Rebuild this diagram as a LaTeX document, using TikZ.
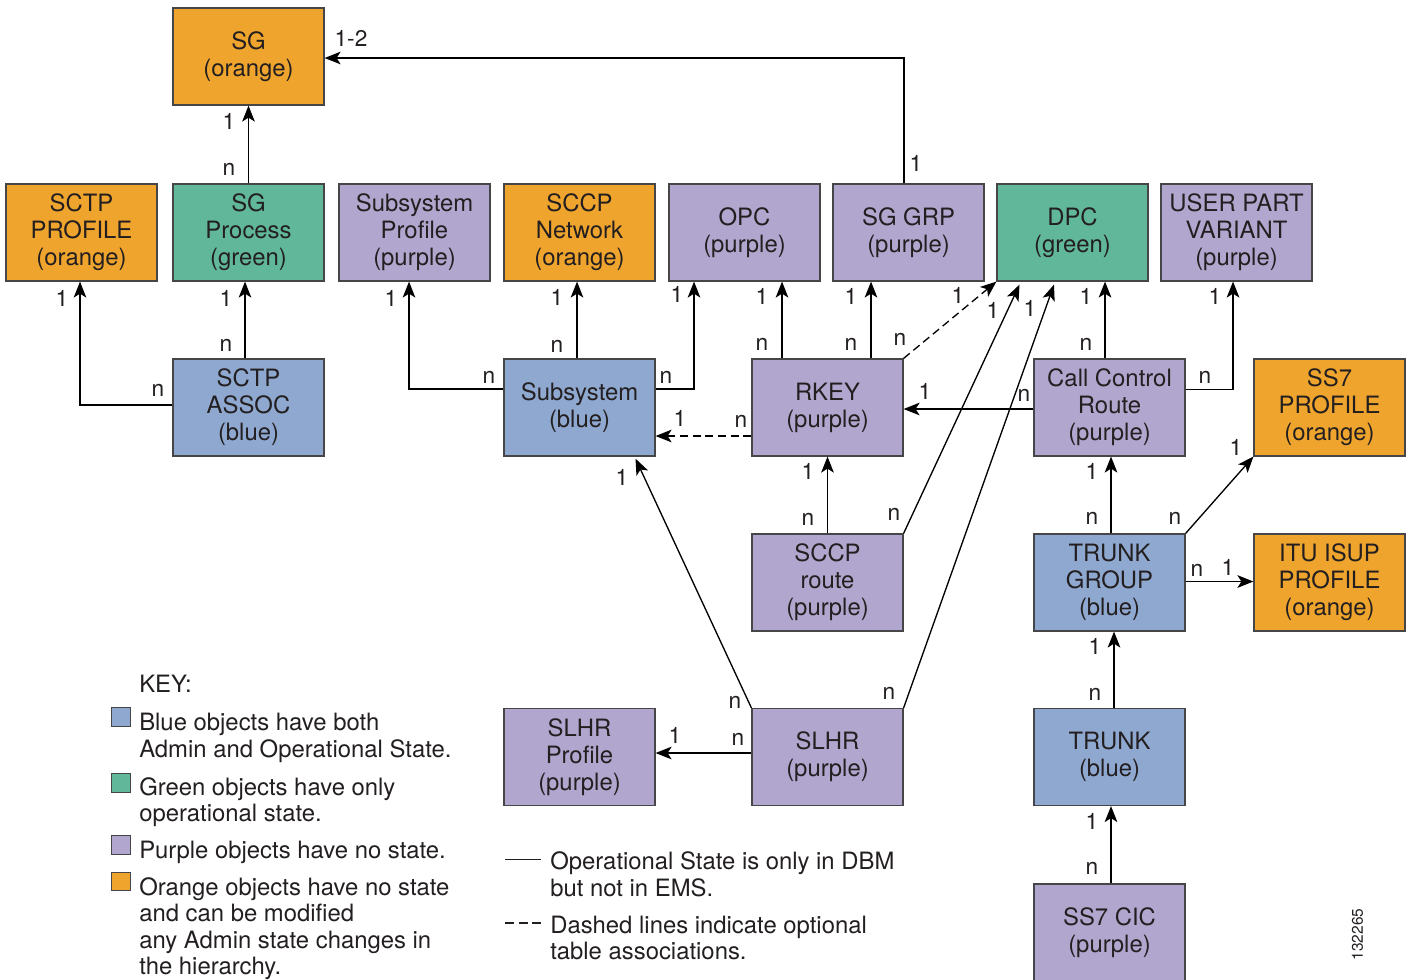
\documentclass[tikz,border=0pt]{standalone}
\usepackage{fontspec}
\setmainfont{TeX Gyre Heros}
\usetikzlibrary{arrows.meta,calc}

\definecolor{cor}{RGB}{239,165,45}
\definecolor{cgr}{RGB}{96,183,153}
\definecolor{cpu}{RGB}{177,166,206}
\definecolor{cbl}{RGB}{143,168,208}
\definecolor{edgec}{RGB}{70,70,72}
\definecolor{inkc}{RGB}{35,31,32}

\begin{document}
\begin{tikzpicture}[x=0.75pt,y=-0.75pt,
  every node/.style={text=inkc},
  obj/.style={draw=edgec, line width=0.9pt, minimum width=113.25pt,
    minimum height=72.75pt, inner sep=0pt, align=center,
    font=\fontsize{17.9}{20.25}\selectfont},
  lab/.style={inner sep=0pt, font=\fontsize{17}{20}\selectfont},
  txt/.style={inner sep=0pt, anchor=base west, font=\fontsize{17.9}{20.25}\selectfont},
  keysq/.style={draw=edgec, line width=0.8pt, minimum size=14pt, inner sep=0pt},
  arr/.style={draw=black, line width=1pt,
    -{Stealth[length=12pt,width=9.5pt,inset=3pt]}},
  opt/.style={arr, dash pattern=on 6pt off 3.5pt},
  sample/.style={draw=inkc, line width=1pt}]

\useasboundingbox (0,0) rectangle (1412,979);

% ---- object boxes ----
\node[obj, fill=cor] (sg)       at (248.5,56.5)  {SG\\(orange)};
\node[obj, fill=cor] (sctpprof) at (81.5,232.5)  {SCTP\\PROFILE\\(orange)};
\node[obj, fill=cgr] (sgproc)   at (248.5,232.5) {SG\\Process\\(green)};
\node[obj, fill=cpu] (ssprof)   at (414.5,232.5) {Subsystem\\Profile\\(purple)};
\node[obj, fill=cor] (sccpnet)  at (579.5,232.5) {SCCP\\Network\\(orange)};
\node[obj, fill=cpu] (opc)      at (744.5,232.5) {OPC\\(purple)};
\node[obj, fill=cpu] (sggrp)    at (908.5,232.5) {SG GRP\\(purple)};
\node[obj, fill=cgr] (dpc)      at (1072.5,232.5) {DPC\\(green)};
\node[obj, fill=cpu] (upv)      at (1236.5,232.5) {USER PART\\VARIANT\\(purple)};
\node[obj, fill=cbl] (sctpassoc) at (248.5,407.5) {SCTP\\ASSOC\\(blue)};
\node[obj, fill=cbl] (subsys)   at (579.5,407.5) {Subsystem\\(blue)};
\node[obj, fill=cpu] (rkey)     at (827.5,407.5) {RKEY\\(purple)};
\node[obj, fill=cpu] (ccr)      at (1109.5,407.5) {Call Control\\Route\\(purple)};
\node[obj, fill=cor] (ss7prof)  at (1329.5,407.5) {SS7\\PROFILE\\(orange)};
\node[obj, fill=cpu] (sccproute) at (827.5,582.5) {SCCP\\route\\(purple)};
\node[obj, fill=cbl] (tg)       at (1109.5,582.5) {TRUNK\\GROUP\\(blue)};
\node[obj, fill=cor] (itu)      at (1329.5,582.5) {ITU ISUP\\PROFILE\\(orange)};
\node[obj, fill=cpu] (slhrprof) at (579.5,757)   {SLHR\\Profile\\(purple)};
\node[obj, fill=cpu] (slhr)     at (827.5,757)   {SLHR\\(purple)};
\node[obj, fill=cbl] (trunk)    at (1109.5,757)  {TRUNK\\(blue)};
\node[obj, fill=cpu] (cic)      at (1109.5,932.5) {SS7 CIC\\(purple)};

% ---- associations ----
\draw[arr] (sgproc.north) -- (sg.south);
\draw[arr] ($(sggrp.north)+(-4.5,0)$) |- ($(sg.east)+(0,1.5)$);
\draw[arr] ($(sctpassoc.west)+(0,-2.5)$) -| ($(sctpprof.south)+(-1.5,0)$);
\draw[arr] ($(sctpassoc.north)+(-3.5,0)$) -- ($(sgproc.south)+(-3.5,0)$);
\draw[arr] ($(subsys.west)+(0,-18.5)$) -| ($(ssprof.south)+(-5.5,0)$);
\draw[arr] ($(subsys.north)+(-2.5,0)$) -- ($(sccpnet.south)+(-2.5,0)$);
\draw[arr] ($(subsys.east)+(0,-18.5)$) -| ($(opc.south)+(-50.5,0)$);
\draw[opt] ($(rkey.west)+(0,28.5)$) -- ($(subsys.east)+(0,28.5)$);
\draw[arr] ($(rkey.north)+(-45.5,0)$) -- ($(opc.south)+(37.5,0)$);
\draw[arr] ($(rkey.north)+(43.5,0)$) -- ($(sggrp.south)+(-37.5,0)$);
\draw[opt] (rkey.north east) -- (dpc.south west);
\draw[arr] (sccproute.north east) -- ($(dpc.south)+(-53,3)$);
\draw[arr] (slhr.north east) -- ($(dpc.south)+(-18.5,3)$);
\draw[arr] ($(ccr.west)+(0,1.5)$) -- ($(rkey.east)+(0,1.5)$);
\draw[arr] ($(ccr.north)+(-4.5,0)$) -- ($(dpc.south)+(32.5,0)$);
\draw[arr] ($(ccr.east)+(0,-18)$) -| ($(upv.south)+(-3.5,0)$);
\draw[arr] (sccproute.north) -- (rkey.south);
\draw[arr] (slhr.north west) -- ($(subsys.south)+(56,2)$);
\draw[arr] ($(slhr.west)+(0,-4)$) -- ($(slhrprof.east)+(0,-4)$);
\draw[arr] ($(tg.north)+(1.5,0)$) -- ($(ccr.south)+(1.5,0)$);
\draw[arr] (tg.north east) -- (ss7prof.south west);
\draw[arr] ($(tg.east)+(0,-1)$) -- ($(itu.west)+(0,-1)$);
\draw[arr] ($(trunk.north)+(4.5,0)$) -- ($(tg.south)+(4.5,0)$);
\draw[arr] ($(cic.north)+(1.5,0)$) -- ($(trunk.south)+(1.5,0)$);

% ---- multiplicities ----
\node[lab] (m1a) at (229,169) {n};   \node[lab] (m1b) at (229,121) {1};
\node[lab] (m2a) at (916,163) {1};   \node[lab] (m2b) at (351,38) {1-2};
\node[lab] (m3a) at (158,390) {n};   \node[lab] (m3b) at (62,298) {1};
\node[lab] (m4a) at (226,345) {n};   \node[lab] (m4b) at (226,298) {1};
\node[lab] (m5a) at (489,377) {n};   \node[lab] (m5b) at (391,298) {1};
\node[lab] (m6a) at (557,346) {n};   \node[lab] (m6b) at (557,297) {1};
\node[lab] (m7a) at (666,377) {n};   \node[lab] (m7b) at (677,294) {1};
\node[lab] (m8a) at (741,421) {n};   \node[lab] (m8b) at (680,418) {1};
\node[lab] (m9a) at (762,344) {n};   \node[lab] (m9b) at (762,296) {1};
\node[lab] (m10a) at (851,344) {n};  \node[lab] (m10b) at (851,296) {1};
\node[lab] (m11a) at (900,339) {n};  \node[lab] (m11b) at (958,295) {1};
\node[lab] (m12a) at (894,514) {n};  \node[lab] (m12b) at (993,310) {1};
\node[lab] (m13a) at (889,693) {n};  \node[lab] (m13b) at (1030,308) {1};
\node[lab] (m14a) at (1024,395) {n}; \node[lab] (m14b) at (925,391) {1};
\node[lab] (m15a) at (1086,344) {n}; \node[lab] (m15b) at (1086,296) {1};
\node[lab] (m16a) at (1205,377) {n}; \node[lab] (m16b) at (1215,296) {1};
\node[lab] (m17a) at (808,519) {n};  \node[lab] (m17b) at (808,471) {1};
\node[lab] (m18a) at (735,702) {n};  \node[lab] (m18b) at (622,477) {1};
\node[lab] (m19a) at (738,739) {n};  \node[lab] (m19b) at (675,735) {1};
\node[lab] (m20a) at (1092,518) {n}; \node[lab] (m20b) at (1092,471) {1};
\node[lab] (m21a) at (1175,518) {n}; \node[lab] (m21b) at (1236,447) {1};
\node[lab] (m22a) at (1197,570) {n}; \node[lab] (m22b) at (1228,567) {1};
\node[lab] (m23a) at (1095,694) {n}; \node[lab] (m23b) at (1095,646) {1};
\node[lab] (m24a) at (1092,868) {n}; \node[lab] (m24b) at (1092,821) {1};

% ---- colour key ----
\node[txt] (keyt) at (139,692) {KEY:};
\node[keysq, fill=cbl] (kblue)   at (121,717) {};
\node[keysq, fill=cgr] (kgreen)  at (121,783) {};
\node[keysq, fill=cpu] (kpurple) at (121,845) {};
\node[keysq, fill=cor] (korange) at (121,881.5) {};
\node[txt] (k1a) at (139,730) {Blue objects have both};
\node[txt] (k1b) at (139,757) {Admin and Operational State.};
\node[txt] (k2a) at (139,795) {Green objects have only};
\node[txt] (k2b) at (139,821) {operational state.};
\node[txt] (k3a) at (139,858) {Purple objects have no state.};
\node[txt] (k4a) at (139,895) {Orange objects have no state};
\node[txt] (k4b) at (139,921) {and can be modified};
\node[txt] (k4c) at (139,948) {any Admin state changes in};
\node[txt] (k4d) at (139,974) {the hierarchy.};

% ---- line key ----
\coordinate (ls1) at (505,859.5); \coordinate (le1) at (541,859.5);
\coordinate (ls2) at (505,923);   \coordinate (le2) at (541,923);
\draw[sample] (ls1) -- (le1);
\draw[sample, dash pattern=on 6.75pt off 3.4pt] (ls2) -- (le2);
\node[txt] (l1a) at (550,869) {Operational State is only in DBM};
\node[txt] (l1b) at (550,896) {but not in EMS.};
\node[txt] (l2a) at (550,933) {Dashed lines indicate optional};
\node[txt] (l2b) at (550,959) {table associations.};

% ---- figure number ----
\node[inner sep=0pt, rotate=90, font=\fontsize{11.6}{12}\selectfont] (fignum) at (1357.5,934.5) {132265};

\end{tikzpicture}
\end{document}
